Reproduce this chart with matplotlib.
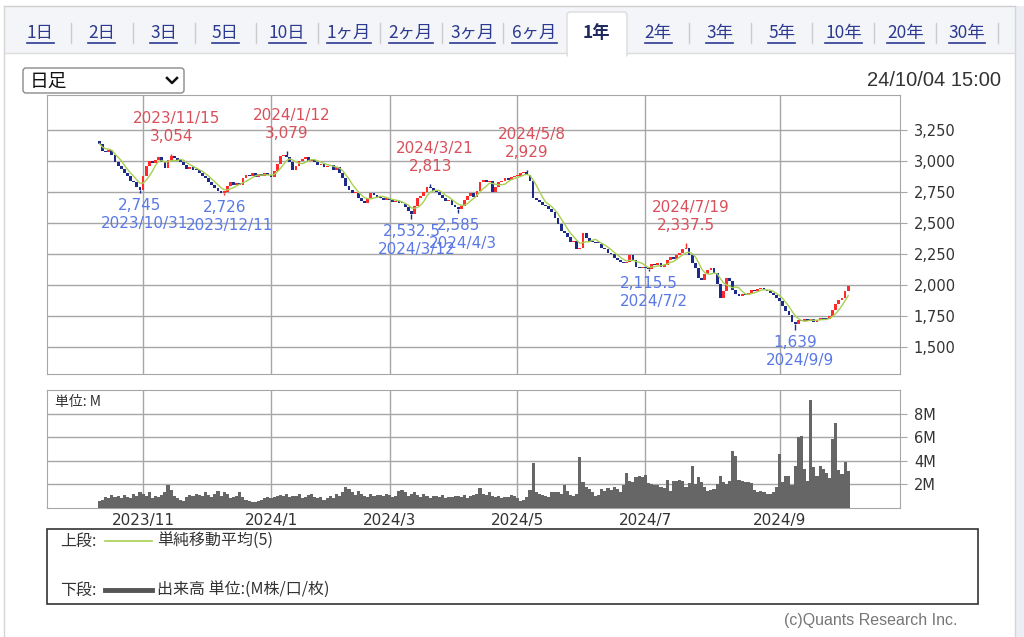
import matplotlib
matplotlib.use("Agg")
import matplotlib.pyplot as plt
from matplotlib.patches import Rectangle, FancyBboxPatch
import numpy as np
import pandas as pd

# --- data (daily closes, yen) ---
close_2023_10 = [3140, 3085, 3070, 3090, 3045, 2990, 2960, 2935, 2900, 2880, 2840, 2830, 2790, 2770]
close_2023_11 = [2880, 2960, 3000, 2985, 3010, 3030, 2990, 2945, 3010, 3040, 3025, 3005, 2990, 2970,
                 2940, 2955, 2930, 2925, 2900, 2880]
close_2023_12 = [2860, 2830, 2810, 2780, 2760, 2745, 2750, 2800, 2830, 2805, 2820, 2810, 2860, 2890,
                 2880, 2900, 2875, 2895, 2880, 2900, 2890]
close_2024_01 = [2870, 2920, 2980, 3040, 3050, 3030, 2990, 2930, 2960, 3000, 3020, 3030, 3000, 3010,
                 2995, 2970, 2980, 2950, 2960]
close_2024_02 = [2970, 2930, 2950, 2900, 2860, 2800, 2770, 2740, 2745, 2700, 2680, 2660, 2700, 2740,
                 2730, 2710, 2700, 2690, 2700]
close_2024_03 = [2690, 2670, 2680, 2660, 2655, 2630, 2600, 2570, 2640, 2700, 2720, 2750, 2790, 2780,
                 2760, 2750, 2730, 2700, 2680, 2690]
close_2024_04 = [2650, 2630, 2610, 2640, 2690, 2720, 2740, 2710, 2760, 2830, 2850, 2830, 2840, 2750,
                 2790, 2830, 2840, 2860, 2850, 2870, 2880]
close_2024_05 = [2880, 2900, 2910, 2890, 2840, 2700, 2690, 2670, 2650, 2640, 2610, 2590, 2540, 2490,
                 2440, 2420, 2390, 2350, 2360, 2290, 2300]
close_2024_06 = [2420, 2380, 2360, 2350, 2340, 2335, 2300, 2290, 2260, 2250, 2220, 2200, 2190, 2180,
                 2190, 2240, 2200, 2150, 2140, 2150]
close_2024_07 = [2140, 2130, 2170, 2160, 2175, 2150, 2165, 2200, 2230, 2210, 2240, 2260, 2290, 2300,
                 2240, 2180, 2140, 2060, 2040, 2090, 2120, 2140]
close_2024_08 = [2100, 2010, 1900, 1950, 2060, 2030, 1960, 1930, 1910, 1930, 1920, 1940, 1960, 1950,
                 1970, 1980, 1960, 1950, 1940, 1920, 1900]
close_2024_09 = [1870, 1830, 1790, 1760, 1700, 1690, 1720, 1710, 1730, 1715, 1725, 1705, 1720, 1740,
                 1730, 1725, 1750, 1800, 1850]
close_2024_10 = [1880, 1900, 1950, 1995]
first_open = 3160

# volume (M shares)
vol_2023_10 = [0.6, 0.7, 0.9, 0.8, 1.1, 0.9, 1.0, 0.8, 1.1, 0.9, 0.8, 1.2, 1.0, 1.3]
vol_2023_11 = [1.2, 1.0, 1.3, 0.8, 1.0, 0.9, 1.1, 1.3, 1.9, 1.5, 1.0, 0.8, 0.7, 0.6, 0.9, 1.1, 1.0, 1.2, 1.1, 1.0]
vol_2023_12 = [1.3, 1.1, 0.9, 1.2, 1.4, 1.0, 1.3, 1.2, 0.8, 0.9, 1.0, 1.3, 0.9, 0.7, 0.6, 0.5, 0.5, 0.6, 0.7,
               0.8, 0.9]
vol_2024_01 = [0.8, 0.9, 1.0, 1.1, 1.0, 1.2, 0.9, 1.0, 1.0, 1.2, 0.8, 0.9, 1.1, 1.2, 0.9, 0.8, 0.9, 0.7, 0.8]
vol_2024_02 = [1.0, 0.8, 1.2, 1.0, 1.3, 1.8, 1.6, 1.3, 1.1, 1.4, 1.2, 1.0, 0.9, 1.2, 1.0, 1.1, 1.1, 1.0, 1.2]
vol_2024_03 = [1.1, 0.9, 1.0, 1.4, 1.5, 1.3, 1.0, 1.2, 1.3, 1.1, 0.9, 1.2, 1.0, 0.8, 1.0, 1.0, 0.9, 1.1, 0.8, 0.9]
vol_2024_04 = [0.9, 1.0, 1.0, 0.9, 1.1, 0.8, 1.0, 1.1, 1.2, 1.7, 1.2, 1.1, 1.3, 1.0, 0.9, 1.0, 0.8, 0.9, 0.9,
               1.1, 1.0]
vol_2024_05 = [0.8, 0.6, 0.7, 0.9, 1.5, 3.8, 1.3, 1.2, 1.1, 1.0, 0.9, 1.3, 1.3, 1.3, 1.2, 1.9, 1.4, 1.1, 1.0,
               1.2, 4.3]
vol_2024_06 = [2.2, 1.8, 1.6, 1.3, 1.0, 1.1, 1.6, 1.4, 1.7, 1.5, 1.8, 1.6, 1.3, 1.9, 3.0, 2.3, 2.2, 2.6, 2.7, 2.6]
vol_2024_07 = [2.8, 2.1, 2.0, 1.9, 1.9, 1.8, 1.7, 2.4, 1.4, 2.3, 2.3, 2.4, 2.3, 1.8, 2.1, 3.6, 2.0, 2.6, 2.2,
               1.8, 1.4, 1.5]
vol_2024_08 = [1.6, 2.0, 2.7, 2.2, 2.0, 2.3, 4.8, 4.4, 2.4, 2.3, 2.2, 2.2, 2.1, 1.5, 1.3, 1.4, 1.3, 1.2, 1.2,
               1.3, 1.8]
vol_2024_09 = [4.6, 2.2, 2.7, 2.7, 1.9, 3.6, 6.0, 6.1, 3.3, 2.3, 9.2, 3.5, 2.7, 3.6, 3.3, 3.0, 2.5, 5.9, 7.2]
vol_2024_10 = [3.2, 2.9, 3.9, 3.1]

# TSE holidays in the window
holidays = ["2023-11-03", "2023-11-23", "2024-01-01", "2024-01-02", "2024-01-03", "2024-01-08",
            "2024-02-12", "2024-02-23", "2024-03-20", "2024-04-29", "2024-05-03", "2024-05-06",
            "2024-07-15", "2024-08-12", "2024-09-16", "2024-09-23"]

high_marks = [("2023/11/15", 3054), ("2024/1/12", 3079), ("2024/3/21", 2813),
              ("2024/5/8", 2929), ("2024/7/19", 2337.5)]
low_marks = [("2023/10/31", 2745), ("2023/12/11", 2726), ("2024/3/12", 2532.5),
             ("2024/4/3", 2585), ("2024/7/2", 2115.5), ("2024/9/9", 1639)]

price_ticks = [1500, 1750, 2000, 2250, 2500, 2750, 3000, 3250]
vol_ticks = [2, 4, 6, 8]
month_labels = ["2023/11", "2024/1", "2024/3", "2024/5", "2024/7", "2024/9"]
tabs = ["1日", "2日", "3日", "5日", "10日", "1ヶ月", "2ヶ月", "3ヶ月", "6ヶ月", "1年",
        "2年", "3年", "5年", "10年", "20年", "30年"]

closes = np.array(close_2023_10 + close_2023_11 + close_2023_12 + close_2024_01 + close_2024_02
                  + close_2024_03 + close_2024_04 + close_2024_05 + close_2024_06 + close_2024_07
                  + close_2024_08 + close_2024_09 + close_2024_10, dtype=float)
volume = np.array(vol_2023_10 + vol_2023_11 + vol_2023_12 + vol_2024_01 + vol_2024_02 + vol_2024_03
                  + vol_2024_04 + vol_2024_05 + vol_2024_06 + vol_2024_07 + vol_2024_08 + vol_2024_09
                  + vol_2024_10)
dates = pd.bdate_range("2023-10-12", "2024-10-04", freq="C", holidays=holidays)
opens = np.concatenate([[first_open], closes[:-1]])
x = np.arange(len(closes))
ma5 = pd.Series(closes).rolling(5, min_periods=1).mean().values

day_index = {f"{d.year}/{d.month}/{d.day}": k for k, d in enumerate(dates)}
month_pos = [next(k for k, d in enumerate(dates) if f"{d.year}/{d.month}" == m) for m in month_labels]

W, H = 1024, 637
fig = plt.figure(figsize=(W / 100, H / 100), dpi=100)
JP = ["Noto Sans CJK JP", "DejaVu Sans"]

# page furniture in pixel coords
bg = fig.add_axes([0, 0, 1, 1])
bg.set_xlim(0, W)
bg.set_ylim(H, 0)
bg.axis("off")
bg.add_patch(Rectangle((4, 6), 1011, 47, facecolor="#f4f5f8", edgecolor="none"))
bg.plot([4, 1015], [6, 6], color="#cfcfcf", lw=1)
bg.plot([4, 4], [6, H], color="#d5d5d5", lw=1)
bg.plot([1015, 1015], [6, H], color="#d5d5d5", lw=1)
bg.add_patch(Rectangle((1015.5, 6), 9, H, facecolor="#eceef5", edgecolor="none"))
bg.plot([4, 567], [53, 53], color="#dcdcdc", lw=1)
bg.plot([627, 1015], [53, 53], color="#dcdcdc", lw=1)
bg.add_patch(FancyBboxPatch((567, 12), 60, 45, boxstyle="round,pad=0,rounding_size=3",
                            facecolor="white", edgecolor="#dcdcdc", lw=1))
bg.add_patch(Rectangle((567.6, 50), 58.8, 8, facecolor="white", edgecolor="none"))

renderer = fig.canvas.get_renderer()
for k, lab in enumerate(tabs):
    cx = 40 + 61.8 * k
    if lab == "1年":
        bg.text(cx, 33, lab, ha="center", va="center", fontsize=12.5, family=JP,
                fontweight="bold", color="#1f2a5e")
        continue
    t = bg.text(cx, 33, lab, ha="center", va="center", fontsize=12.5, family=JP, color="#2b3990")
    bb = t.get_window_extent(renderer=renderer)
    x0 = bg.transData.inverted().transform((bb.x0, 0))[0]
    x1 = bg.transData.inverted().transform((bb.x1, 0))[0]
    bg.plot([x0, x1], [43, 43], color="#2b3990", lw=1.2)
    if k not in (8, 9):
        bg.plot([cx + 30.9, cx + 30.9], [23, 43], color="#cccccc", lw=1)

bg.add_patch(FancyBboxPatch((23, 68), 161, 25, boxstyle="round,pad=0,rounding_size=3",
                            facecolor="white", edgecolor="#8a8a8a", lw=1))
bg.text(30, 81, "日足", ha="left", va="center", fontsize=13.5, family=JP, color="#111111")
bg.plot([167, 172, 177], [78, 83, 78], color="#111111", lw=1.8)
bg.text(1001, 80, "24/10/04 15:00", ha="right", va="center", fontsize=14.5,
        family="Liberation Sans", color="#333333")

# legend box
bg.add_patch(Rectangle((47, 529), 931, 75, facecolor="white", edgecolor="#333333", lw=1.2))
bg.text(60, 541, "上段:", ha="left", va="center", fontsize=11.5, family=JP, color="#333333")
bg.plot([105, 152], [541, 541], color="#a8d050", lw=1.2)
bg.text(157, 541, "単純移動平均(5)", ha="left", va="center", fontsize=11.5, family=JP, color="#333333")
bg.text(60, 590, "下段:", ha="left", va="center", fontsize=11.5, family=JP, color="#333333")
bg.plot([105, 152], [590, 590], color="#555555", lw=3.5)
bg.text(157, 590, "出来高 単位:(M株/口/枚)", ha="left", va="center", fontsize=11.5, family=JP,
        color="#333333")
bg.text(957, 621, "(c)Quants Research Inc.", ha="right", va="center", fontsize=11.5,
        family="Liberation Sans", color="#777777")

grid_c = "#a6a6a6"
xlim = (-16.8, 256.6)


def px_axes(l, t, r, b):
    return fig.add_axes([l / W, 1 - b / H, (r - l) / W, (b - t) / H])


# price panel
ax = px_axes(47, 95, 900, 374)
ax.set_xlim(*xlim)
ax.set_ylim(1285, 3532)
up = closes >= opens
body = np.where(np.abs(closes - opens) < 10, 10, closes - opens)
ax.bar(x[up], body[up], bottom=opens[up], width=0.9, color="#ff2a2a", zorder=3)
ax.bar(x[~up], body[~up], bottom=opens[~up], width=0.9, color="#1c2b8a", zorder=3)
ax.plot(x, ma5, color="#a8d050", lw=1, zorder=4)

for d, v in high_marks:
    i = day_index[d]
    ax.vlines(i, max(opens[i], closes[i]), v, color="#1c2b8a" if closes[i] < opens[i] else "#ff2a2a",
              lw=1, zorder=3)
    txt = f"{v:,.1f}" if v % 1 else f"{int(v):,}"
    ax.annotate(txt, (i, v), xytext=(0, 17.5), textcoords="offset pixels", ha="center",
                va="center", fontsize=11, color="#d9505a", annotation_clip=False, zorder=5)
    ax.annotate(d, (i, v), xytext=(5, 35.5), textcoords="offset pixels", ha="center",
                va="center", fontsize=11, color="#d9505a", annotation_clip=False, zorder=5)
for d, v in low_marks:
    i = day_index[d]
    ax.vlines(i, v, min(opens[i], closes[i]), color="#1c2b8a" if closes[i] < opens[i] else "#ff2a2a",
              lw=1, zorder=3)
    txt = f"{v:,.1f}" if v % 1 else f"{int(v):,}"
    ax.annotate(txt, (i, v), xytext=(0, -12.5), textcoords="offset pixels", ha="center",
                va="center", fontsize=11, color="#5a78e6", annotation_clip=False, zorder=5)
    ax.annotate(d, (i, v), xytext=(5, -30.5), textcoords="offset pixels", ha="center",
                va="center", fontsize=11, color="#5a78e6", annotation_clip=False, zorder=5)

ax.set_yticks(price_ticks)
ax.set_yticklabels([f"{p:,}" for p in price_ticks])
ax.yaxis.tick_right()
ax.set_xticks(month_pos)
ax.set_xticklabels([])
ax.tick_params(axis="y", length=5, color=grid_c, pad=5, labelsize=10.5, labelcolor="#333333")
ax.tick_params(axis="x", length=0)
ax.grid(True, color=grid_c, lw=1)
ax.set_axisbelow(True)
for s in ax.spines.values():
    s.set_color(grid_c)

# volume panel
axv = px_axes(47, 390, 900, 507.7)
axv.set_xlim(*xlim)
axv.set_ylim(0, 10.05)
axv.bar(x, volume, width=1.0, color="#666666", zorder=3)
axv.set_yticks(vol_ticks)
axv.set_yticklabels([f"{v}M" for v in vol_ticks])
axv.yaxis.tick_right()
axv.set_xticks(month_pos)
axv.set_xticklabels(month_labels)
axv.tick_params(axis="y", length=5, color=grid_c, pad=5, labelsize=10.5, labelcolor="#333333")
axv.tick_params(axis="x", length=0, pad=4, labelsize=11, labelcolor="#333333")
axv.grid(True, color=grid_c, lw=1)
axv.set_axisbelow(True)
for s in axv.spines.values():
    s.set_color(grid_c)
axv.text(0.009, 0.9, "単位: M", transform=axv.transAxes, ha="left", va="center",
         fontsize=10, family=JP, color="#333333", zorder=5)

fig.savefig("out.png", dpi=100)
